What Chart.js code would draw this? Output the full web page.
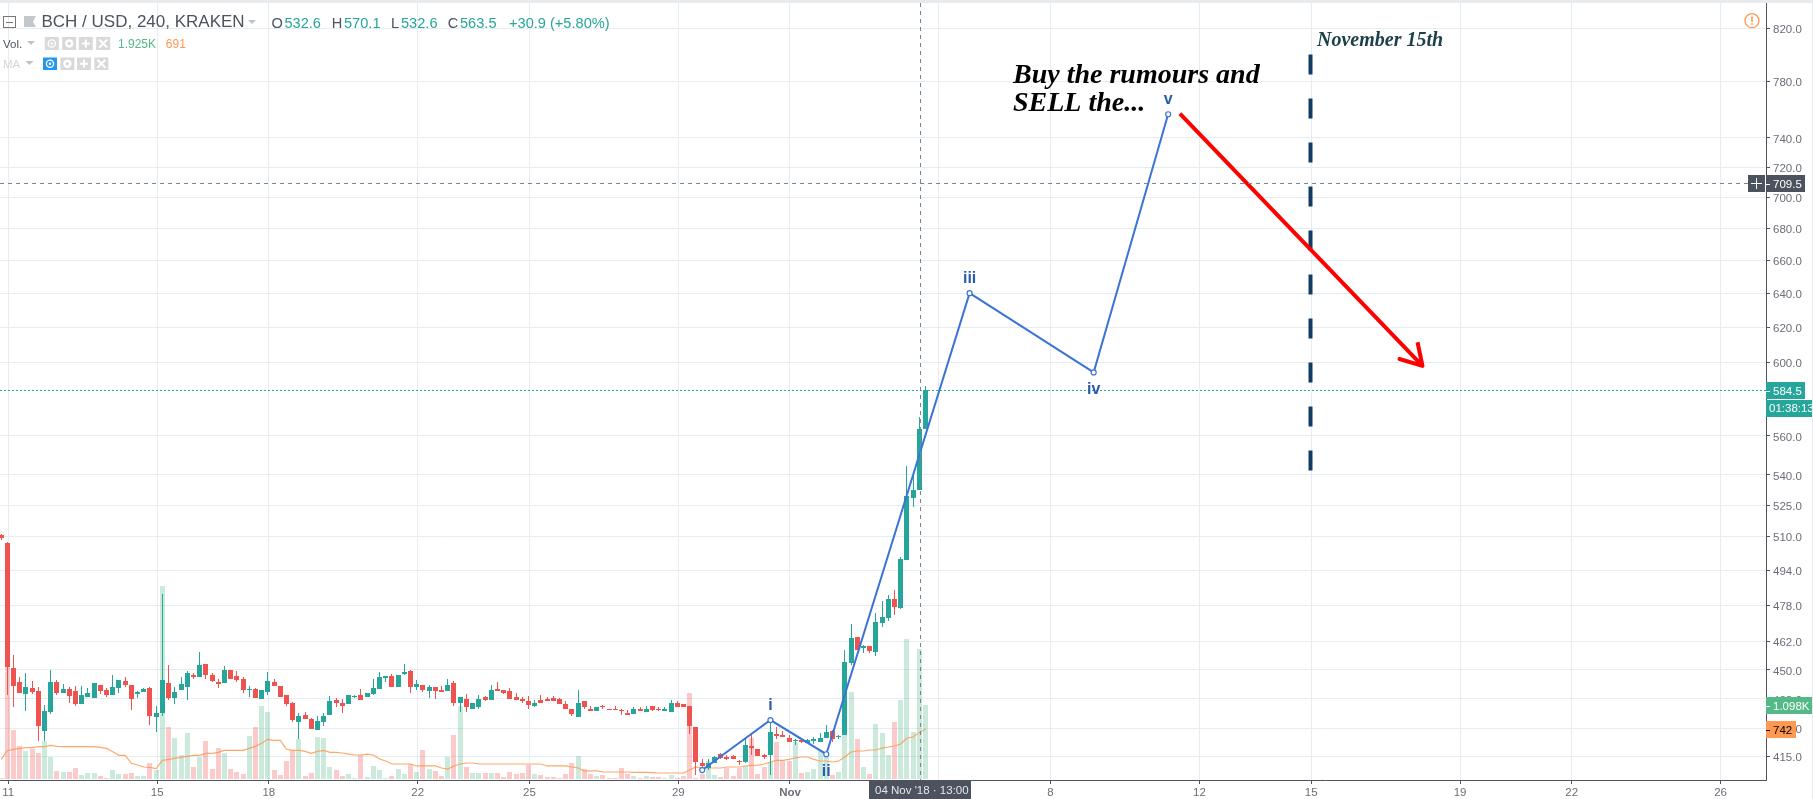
<!DOCTYPE html>
<html>
<head>
<meta charset="utf-8">
<title>BCH / USD</title>
<script src="https://cdn.jsdelivr.net/npm/chart.js@4/dist/chart.umd.js"></script>
<style>
    html, body { margin: 0; padding: 0; background: #fff; overflow: hidden; }
    #topStrip { position: absolute; left: 0; top: 0; width: 1813px; height: 3px; background: #e8ebee; }
    #chart { display: block; }
</style>
</head>
<body>
<canvas id="chart" width="1813" height="799"></canvas>
<div id="topStrip"></div>
<script>
// 4h candles, one entry per bar
const opens = [
    510.5,506.8,450.8,445,439.9,442.4,441.2,425.2,432.8,445,
    440.3,442,441.2,435.7,438.7,438.2,443.7,441.6,439.5,442.4,
    445.4,443.7,439.9,440.8,442.4,430.7,432.4,444.5,438.2,441.6,
    442.9,447.9,447,452.5,447.9,445,444.5,450,447.5,446.2,
    441.6,442,437.8,440.8,445,443.3,439.5,436.1,428.6,431.5,
    429.8,425.6,428.6,431.5,437.4,436.1,435.7,438.7,439.5,438.7,
    439.9,442,446.6,447.5,442.9,448.3,449.6,442.9,443.7,441.2,
    442.9,441.6,441.2,444.5,436.5,437.8,434,434.5,438.7,437.4,
    442,441.6,441.2,438.7,437.8,437,434.9,437.4,437.8,438.2,
    437.8,435.7,434,430.7,437,434,433.2,434.9,434,434,
    433.2,432.4,431.9,434,432.8,434.9,434,433.2,432.8,436.5,
    435.7,434.9,426.7,412.6,410.7,412.6,416,414.7,415.3,413.4,
    413,419.2,417.8,415.7,415.5,424,423.5,422.3,421,421.5,
    420.4,421.1,420.8,422.3,425.2,422.6,423.5,453,464.1,459.3,
    460,457.6,470.2,472.4,480.9,476.9,498.8,528.5,532.6,563.5
];
const highs = [
    511,507,456.3,447,448.7,445.4,442.9,435.3,450,445.8,
    444.1,442.9,443.3,443.3,442.4,444.5,443.7,442.4,447.9,445.8,
    447,443.7,441.2,442.4,442.9,434.9,483.2,452.1,442.9,447,
    449.6,448.7,457.6,452.5,448.7,446.2,451.7,450,449.6,447,
    443.3,442.4,441.6,449.2,446.2,443.3,439.5,436.9,432.4,432.8,
    430.3,431.1,432.4,439.1,438.2,437.8,439.5,439.5,442,440.3,
    446.2,449.2,447.5,448.3,447.9,452.5,450,445.8,443.7,443.7,
    442.9,443.3,446.2,445.4,438.7,439.9,436.5,439.5,439.1,443.7,
    445,441.6,442.4,440.3,438.7,439.1,437.4,439.5,438.7,439.1,
    438.2,437,434,441.6,437,435,434.5,435.3,434,434.9,
    434,433.6,434.5,434.5,434.9,434.9,434.5,434.5,437.4,437,
    435.7,435,426.7,414.1,414.1,415.3,416.4,415.5,415.5,413.7,
    421.9,423.5,417.8,416,428.3,426.7,425.1,423.5,421.8,421.9,
    421.8,422.6,424.3,427.5,425.5,423.5,458.5,469.8,464.1,460.5,
    460,474.6,480,482.7,484.9,500.1,544.6,540,570.1,586.8
];
const lows = [
    508,439.5,434.5,440.3,433.2,439.9,421,421,432,439.5,
    440.3,436.1,434.9,435.7,438.7,438.2,439.9,438.7,439.5,440.3,
    442.9,433.6,438.2,440.8,427.3,424.8,431.1,437.4,435.7,441.6,
    437.4,446.2,447,446.2,445,442.4,444.5,446.2,445,440.3,
    438.7,438.2,437.8,439.5,443.3,438.7,434.9,428.6,421.9,429.8,
    426,425.6,426.9,431.5,434.5,432.4,435.7,438.4,437.4,438.7,
    439.5,442,445,442.9,442.9,447.9,440.3,441.6,440.8,438.2,
    437.8,440.8,441.2,434.9,432.8,432.8,434,434,437,437.4,
    441.2,439.9,437.8,437.4,436.1,434,434.5,436.5,437,437,
    435.7,434,431,430.7,434,433.2,433.2,434,433.6,433.6,
    431.5,431.5,431.9,433.2,432.8,433.2,433.2,433.2,432.8,434.5,
    434.5,424,408,409.8,409.8,412.6,414.1,413.5,414,411.7,
    412.6,415.7,415.3,414.1,408,421.9,422.6,420.8,419.6,420.4,
    420.4,420,420.8,422.3,420.8,422,423.5,452.1,458.5,457,
    457,455.7,468.5,471.1,473.7,476.4,498.8,524,532.6,563.5
];
const closes = [
    509,451.3,443.3,440.3,442.9,440.8,426.9,433.2,445,440.3,
    442,439.1,435.7,439.5,440.3,444.5,441.2,439.5,442.9,445.8,
    443.7,437.8,440.8,442,431.1,432.4,445.8,438.2,440.8,444.1,
    448.7,447,452.1,447.9,445.4,444.1,450,446.2,445.8,441.6,
    442,438.2,441.6,445.4,443.3,438.7,435.7,429.4,431.1,429.8,
    426,429,431.1,437,436.5,434.9,439.5,439.2,437.4,440.3,
    442.4,447,447.5,442.9,447.9,449.2,442.9,444.1,441.6,442.9,
    441.2,440.8,443.7,436.5,438.7,434.5,436.1,437.8,437.4,441.6,
    441.2,440.3,437.8,437.4,437,435.3,436.5,436.5,437,437,
    435.7,434,431.9,436.5,434.5,433.2,434.5,434.5,433.6,433.6,
    432.9,431.5,434,433.2,434,433.6,433.6,434,436.5,434.5,
    434.5,426.9,413,411.4,412.6,414.9,414.5,414.1,414.1,413,
    419.6,418.5,415.3,414.7,424.7,423.2,422.6,420.8,421.5,420.8,
    421.5,421.8,422.3,424.7,421.9,423,453.4,463.7,458.5,460,
    458.1,470.7,472.9,480.9,477.3,499.2,529.5,532.4,563.5,584.5
];
const volumes = [
    15,2401,726,489,415,445,385,563,326,119,
    104,104,163,59,89,89,44,5,133,74,
    74,89,44,44,237,133,2860,771,608,356,
    682,178,326,563,148,459,385,148,104,74,
    637,771,1082,993,133,59,267,430,593,44,
    89,622,608,178,133,44,74,15,356,30,
    193,133,15,44,148,74,222,104,430,148,
    119,44,326,652,1082,178,89,89,89,89,
    89,30,104,74,89,207,74,59,30,30,
    15,74,237,341,148,74,44,59,1,1,
    163,74,44,15,44,30,30,15,59,15,
    44,1275,5,74,267,59,30,163,44,163,
    193,608,74,178,257,548,282,267,548,89,
    104,148,430,326,59,104,1660,1289,593,178,
    74,815,682,356,845,1171,2075,697,1925,1098
];
const volumeMA = [
    291,420,440,454,464,464,479,479,499,484,
    479,479,479,479,479,479,469,454,405,351,
    351,232,207,178,173,153,277,291,306,321,
    336,351,351,380,380,395,425,425,425,425,
    454,484,529,588,573,573,440,425,425,410,
    380,410,425,395,395,385,370,356,356,370,
    356,296,267,222,222,222,222,193,193,193,
    193,163,148,193,222,237,237,222,222,222,
    222,222,222,222,222,222,222,222,193,193,
    193,193,178,163,119,119,119,104,104,104,
    104,104,99,99,99,94,89,89,89,89,
    89,133,178,163,163,163,163,178,178,178,
    193,203,207,222,252,277,277,291,311,326,
    326,291,267,267,252,267,326,400,415,415,
    430,430,459,474,489,519,608,622,691,742
];

// axes
const priceTicks = [820, 780, 740, 720, 700, 680, 660, 640, 620, 600, 560, 540, 525, 510, 494, 478, 462, 450, 438, 426, 415];
const tickPositions = [1, 25, 43, 67, 85, 109, 127, 151, 169, 193, 211, 235, 253, 277];
const tickLabels = ['11', '15', '18', '22', '25', '29', 'Nov', '5', '8', '12', '15', '19', '22', '26'];

// drawings on top of the candles
const waveIndex = [112.85, 123.85, 132.85, 155.95, 175.95, 187.95];
const wavePrice = [409.8, 429.4, 415.9, 640, 594.3, 756.5];
const waveLabels = ['', 'i', 'ii', 'iii', 'iv', 'v'];
const arrowIndex = [189.85, 228.95, 225.25, 228.95, 228.15];
const arrowPrice = [756.9, 597.9, 601.8, 597.9, 611.3];
const dateLineIndex = [210.9, 210.9];
const dateLinePrice = [800, 542];

const lastPrice = 584.5;
const crossPrice = 709.5;
const crossIndex = 148;
// candles sit about a pixel left of their time tick on the original
const barOffset = -0.16;

const UP = '#26a69a';
const DOWN = '#ef5350';
const VOL_UP = 'rgba(83,185,135,0.3)';
const VOL_DOWN = 'rgba(239,83,80,0.3)';
const GRID = '#e6edf2';
const AXIS = '#50535e';
const TICK_TEXT = '#6b6e76';
const DARK = '#4c525e';
const FONT = '"Liberation Sans", Arial, sans-serif';
const SERIF = '"Liberation Serif", "Times New Roman", serif';

Chart.defaults.font.family = FONT;
Chart.defaults.font.size = 11.5;

const isUp = i => closes[i] >= opens[i];

function text(ctx, str, x, y, font, color, align) {
    ctx.font = font;
    ctx.fillStyle = color;
    ctx.textAlign = align || 'left';
    ctx.textBaseline = 'alphabetic';
    ctx.fillText(str, x, y);
}

function caret(ctx, x, y, color) {
    ctx.fillStyle = color;
    ctx.beginPath();
    ctx.moveTo(x, y);
    ctx.lineTo(x + 8, y);
    ctx.lineTo(x + 4, y + 4);
    ctx.closePath();
    ctx.fill();
}

// eye, gear, plus, cross buttons of the legend rows
function buttons(ctx, x, y, h, firstColor) {
    const w = 14;
    [0, 17.4, 34, 51.4].forEach((dx, n) => {
        const bx = x + dx;
        const cx = bx + w / 2;
        const cy = y + h / 2;
        ctx.fillStyle = n === 0 ? firstColor : '#d9d9d9';
        ctx.fillRect(bx, y, w, h);
        ctx.strokeStyle = '#fff';
        ctx.fillStyle = '#fff';
        ctx.lineWidth = 1.4;
        ctx.beginPath();
        if (n === 0) {
            ctx.arc(cx, cy, 3.6, 0, Math.PI * 2);
            ctx.stroke();
            ctx.beginPath();
            ctx.arc(cx, cy, 1.3, 0, Math.PI * 2);
            ctx.fill();
        } else if (n === 1) {
            ctx.arc(cx, cy, 3, 0, Math.PI * 2);
            ctx.lineWidth = 2.4;
            ctx.stroke();
        } else if (n === 2) {
            ctx.moveTo(cx - 4, cy); ctx.lineTo(cx + 4, cy);
            ctx.moveTo(cx, cy - 4); ctx.lineTo(cx, cy + 4);
            ctx.lineWidth = 2;
            ctx.stroke();
        } else {
            ctx.moveTo(cx - 4, cy - 4); ctx.lineTo(cx + 4, cy + 4);
            ctx.moveTo(cx + 4, cy - 4); ctx.lineTo(cx - 4, cy + 4);
            ctx.lineWidth = 2;
            ctx.stroke();
        }
    });
}

function priceBox(ctx, y0, y1, width, bg, color, str) {
    ctx.fillStyle = bg;
    ctx.fillRect(1766, y0, width, y1 - y0);
    ctx.strokeStyle = color;
    ctx.lineWidth = 1;
    ctx.beginPath();
    ctx.moveTo(1766, Math.round((y0 + y1) / 2) + 0.5);
    ctx.lineTo(1770, Math.round((y0 + y1) / 2) + 0.5);
    ctx.stroke();
    text(ctx, str, 1773, (y0 + y1) / 2 + 4, '11.5px ' + FONT, color);
}

// keeps bars on whole pixels so that candles are as crisp as on the original
const snapBars = {
    id: 'snapBars',
    afterDatasetsUpdate(chart) {
        chart.data.datasets.forEach((ds, n) => {
            if (ds.type === 'line') return;
            chart.getDatasetMeta(n).data.forEach(bar => {
                bar.x = Math.floor(bar.x) + 0.5;
                bar.y = Math.round(bar.y);
                bar.base = Math.round(bar.base);
                if (bar.y === bar.base) bar.y -= 1;
            });
        });
    }
};

const overlay = {
    id: 'overlay',
    afterDatasetsDraw(chart) {
        const ctx = chart.ctx;
        const xs = chart.scales.x;
        const ys = chart.scales.y;
        const area = chart.chartArea;
        ctx.save();
        ctx.lineWidth = 1;

        // last price line
        const lastY = Math.round(ys.getPixelForValue(lastPrice)) + 0.5;
        ctx.strokeStyle = UP;
        ctx.setLineDash([2, 2]);
        ctx.beginPath();
        ctx.moveTo(area.left, lastY);
        ctx.lineTo(area.right, lastY);
        ctx.stroke();

        // crosshair
        const crossX = Math.round(xs.getPixelForValue(crossIndex)) + 0.5;
        const crossY = Math.round(ys.getPixelForValue(crossPrice)) + 0.5;
        ctx.strokeStyle = '#758696';
        ctx.setLineDash([4, 4]);
        ctx.beginPath();
        ctx.moveTo(crossX, area.top);
        ctx.lineTo(crossX, area.bottom);
        ctx.moveTo(area.left, crossY);
        ctx.lineTo(1748, crossY);
        ctx.stroke();
        ctx.setLineDash([]);

        // wave counts
        waveLabels.forEach((label, n) => {
            if (!label) return;
            const x = xs.getPixelForValue(waveIndex[n]);
            const y = ys.getPixelForValue(wavePrice[n]);
            const below = n === 2 || n === 4;
            text(ctx, label, x, below ? y + 22 : y - 10, 'bold 16px ' + FONT, '#2a5caa', 'center');
        });

        text(ctx, 'Buy the rumours and', 1013, 83, 'italic bold 28px ' + SERIF, '#000');
        text(ctx, 'SELL the...', 1013, 111, 'italic bold 28px ' + SERIF, '#000');
        text(ctx, 'November 15th', 1317, 46, 'italic bold 20px ' + SERIF, '#1c3f4a');
        ctx.restore();
    },
    afterDraw(chart) {
        const ctx = chart.ctx;
        ctx.save();

        // main legend
        ctx.strokeStyle = '#777';
        ctx.lineWidth = 1;
        ctx.strokeRect(3.5, 16.5, 12, 11);
        ctx.beginPath();
        ctx.moveTo(6, 22.5);
        ctx.lineTo(13, 22.5);
        ctx.stroke();
        ctx.fillStyle = '#c5c7cf';
        ctx.beginPath();
        ctx.moveTo(24, 16);
        ctx.lineTo(36, 16);
        ctx.lineTo(33, 21.5);
        ctx.lineTo(36, 27);
        ctx.lineTo(24, 27);
        ctx.closePath();
        ctx.fill();
        text(ctx, 'BCH / USD, 240, KRAKEN', 41.5, 27, '17px ' + FONT, DARK);
        caret(ctx, 248, 20, '#c0c2c8');
        const ohlc = '14.6px ' + FONT;
        text(ctx, 'O', 271.5, 28, ohlc, DARK);
        text(ctx, '532.6', 284.4, 28, ohlc, UP);
        text(ctx, 'H', 331.7, 28, ohlc, DARK);
        text(ctx, '570.1', 344, 28, ohlc, UP);
        text(ctx, 'L', 391, 28, ohlc, DARK);
        text(ctx, '532.6', 401, 28, ohlc, UP);
        text(ctx, 'C', 447.8, 28, ohlc, DARK);
        text(ctx, '563.5', 460, 28, ohlc, UP);
        text(ctx, '+30.9 (+5.80%)', 509, 28, ohlc, UP);

        // volume legend
        text(ctx, 'Vol.', 3, 47.5, '11.5px ' + FONT, DARK);
        caret(ctx, 27, 41, '#c0c2c8');
        buttons(ctx, 44.8, 37, 13, '#d9d9d9');
        text(ctx, '1.925K', 118, 47.5, '12px ' + FONT, '#53b987');
        text(ctx, '691', 165.8, 47.5, '12px ' + FONT, '#ff9850');
        text(ctx, 'MA', 3, 67.5, '11.5px ' + FONT, '#d3d5da');
        caret(ctx, 25.5, 61, '#c0c2c8');
        buttons(ctx, 43, 57.5, 12.5, '#2196f3');

        // warning icon
        ctx.strokeStyle = '#ff9850';
        ctx.lineWidth = 1.3;
        ctx.beginPath();
        ctx.arc(1752, 20.7, 7, 0, Math.PI * 2);
        ctx.stroke();
        ctx.fillStyle = '#ff9850';
        ctx.fillRect(1751.2, 16.5, 1.6, 5.6);
        ctx.fillRect(1751.2, 23.2, 1.6, 1.6);

        // crosshair tags
        ctx.fillStyle = DARK;
        ctx.fillRect(1748, 175, 17, 17);
        ctx.strokeStyle = '#fff';
        ctx.lineWidth = 1;
        ctx.beginPath();
        ctx.moveTo(1751, 183.5);
        ctx.lineTo(1762, 183.5);
        ctx.moveTo(1756.5, 178);
        ctx.lineTo(1756.5, 189);
        ctx.stroke();
        priceBox(ctx, 175, 192, 39, DARK, '#fff', '709.5');
        priceBox(ctx, 382, 399, 39, UP, '#fff', '584.5');
        ctx.fillStyle = UP;
        ctx.fillRect(1766, 400, 46, 17);
        text(ctx, '01:38:13', 1769, 412, '11.5px ' + FONT, '#fff');
        priceBox(ctx, 697, 714, 46, '#53b987', '#fff', '1.098K');
        priceBox(ctx, 721, 738, 30, '#ff9850', '#000', '742');

        ctx.fillStyle = DARK;
        ctx.fillRect(869, 781, 102, 18);
        text(ctx, "04 Nov '18 \u00b7 13:00", 875, 794, '11.5px ' + FONT, '#e6e7ea');

        // right edge of the page frame
        ctx.fillStyle = '#e8ebee';
        ctx.fillRect(1812, 0, 1, 799);
        ctx.restore();
    }
};

new Chart(document.getElementById('chart').getContext('2d'), {
    type: 'bar',
    data: {
        datasets: [
            {
                type: 'line',
                order: 1,
                data: arrowIndex.map((x, i) => ({ x: x, y: arrowPrice[i] })),
                borderColor: '#ff0000',
                borderWidth: 4,
                borderJoinStyle: 'round',
                pointRadius: 0,
                tension: 0
            },
            {
                type: 'line',
                order: 2,
                data: dateLineIndex.map((x, i) => ({ x: x, y: dateLinePrice[i] })),
                borderColor: '#123c64',
                borderWidth: 4,
                borderDash: [20, 24],
                pointRadius: 0
            },
            {
                type: 'line',
                order: 3,
                data: waveIndex.map((x, i) => ({ x: x, y: wavePrice[i] })),
                borderColor: '#3c74d6',
                borderWidth: 2,
                pointRadius: 2.5,
                pointBorderWidth: 1.2,
                pointBackgroundColor: '#fff',
                pointBorderColor: '#3c74d6',
                tension: 0
            },
            {
                order: 4,
                data: opens.map((o, i) => ({ x: i + barOffset, y: [Math.min(o, closes[i]), Math.max(o, closes[i])] })),
                backgroundColor: opens.map((o, i) => isUp(i) ? UP : DOWN),
                grouped: false,
                maxBarThickness: 5,
                barPercentage: 1,
                categoryPercentage: 1,
                inflateAmount: 0,
                borderWidth: 0
            },
            {
                order: 5,
                data: highs.map((h, i) => ({ x: i + barOffset, y: [lows[i], h] })),
                backgroundColor: highs.map((h, i) => isUp(i) ? UP : DOWN),
                grouped: false,
                maxBarThickness: 1,
                barPercentage: 1,
                categoryPercentage: 1,
                inflateAmount: 0,
                borderWidth: 0
            },
            {
                type: 'line',
                order: 6,
                yAxisID: 'vol',
                data: volumeMA.map((v, i) => ({ x: i + barOffset, y: v })),
                borderColor: 'rgba(255,152,80,0.85)',
                borderWidth: 1.2,
                pointRadius: 0,
                tension: 0
            },
            {
                order: 7,
                yAxisID: 'vol',
                data: volumes.map((v, i) => ({ x: i + barOffset, y: v })),
                backgroundColor: volumes.map((v, i) => isUp(i) ? VOL_UP : VOL_DOWN),
                grouped: false,
                maxBarThickness: 5,
                barPercentage: 1,
                categoryPercentage: 1,
                inflateAmount: 0,
                borderWidth: 0
            }
        ]
    },
    options: {
        responsive: false,
        animation: false,
        events: [],
        layout: { autoPadding: false, padding: { top: 3 } },
        plugins: { legend: { display: false }, tooltip: { enabled: false } },
        scales: {
            x: {
                type: 'linear',
                offset: false,
                min: -0.338,
                max: 284.32,
                afterFit(scale) {
                    scale.height = 19;
                    scale.paddingLeft = 0;
                    scale.paddingRight = 0;
                },
                afterBuildTicks(scale) { scale.ticks = tickPositions.map(v => ({ value: v })); },
                grid: { offset: false, color: GRID, tickColor: AXIS, tickLength: 4 },
                border: { color: AXIS },
                ticks: {
                    autoSkip: false,
                    maxRotation: 0,
                    padding: 2,
                    color: TICK_TEXT,
                    font: ctx => ({ size: 11.5, weight: ctx.tick && ctx.tick.label === 'Nov' ? 'bold' : 'normal' }),
                    callback: value => tickLabels[tickPositions.indexOf(value)]
                }
            },
            y: {
                type: 'logarithmic',
                position: 'right',
                beginAtZero: false,
                min: 406,
                max: 839.4,
                afterFit(scale) {
                    scale.width = 47;
                    scale.paddingTop = 0;
                    scale.paddingBottom = 0;
                },
                afterBuildTicks(scale) { scale.ticks = priceTicks.map(v => ({ value: v })); },
                grid: { color: GRID, tickColor: AXIS, tickLength: 4 },
                border: { color: AXIS },
                ticks: {
                    autoSkip: false,
                    padding: 3,
                    labelOffset: 1.5,
                    color: TICK_TEXT,
                    callback: value => value.toFixed(1)
                }
            },
            vol: {
                type: 'linear',
                display: false,
                min: -15,
                max: 11508,
                beginAtZero: false
            }
        }
    },
    plugins: [snapBars, overlay]
});
</script>
</body>
</html>
